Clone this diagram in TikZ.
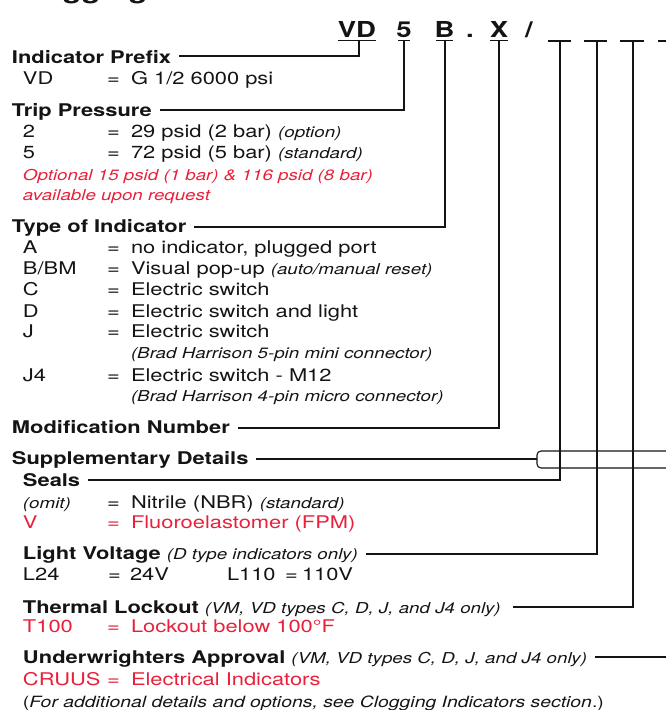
\documentclass[tikz,border=0pt]{standalone}
\usepackage{fontspec}
\setmainfont{TeX Gyre Heros}[FakeStretch=1.25]
\usetikzlibrary{calc}
\definecolor{ored}{RGB}{232,32,58}
\definecolor{ink}{RGB}{20,20,20}
\newcommand\bodyfs{\fontsize{17.5}{21}\selectfont}
\newcommand\notefs{\fontsize{15}{18}\selectfont}
\newcommand\codefs{\fontsize{22}{26}\selectfont\bfseries}
\newcommand\mynote[1]{{\notefs\itshape #1}}
% name, y, code, value, colour
\newcommand\entry[5]{%
  \node[txt,text=#5] (#1c) at (23,#2) {#3};
  \node[txt,text=#5] (#1e) at (107,#2) {=};
  \node[txt,text=#5] (#1v) at (131,#2) {#4};}
\begin{document}
\begin{tikzpicture}[x=1pt,y=-1pt,
  every node/.style={inner sep=0pt,outer sep=0pt,text=ink,font=\bodyfs},
  txt/.style={anchor=base west},
  head/.style={anchor=base west,font=\bodyfs\bfseries},
  code/.style={anchor=base,font=\codefs},
  conn/.style={draw=ink,line width=1.1pt},
  bar/.style={draw=ink,line width=1.1pt}]
\useasboundingbox (0,0) rectangle (666,710);
\clip (0,0) rectangle (666,710);

% cut-off title (only its descenders show)
\node[anchor=base west,font=\fontsize{25}{30}\selectfont\bfseries] (title) at (12,-1.5) {Clogging Indicator};

% code line
\node[code] (cvd) at (357,37) {VD};
\node[code] (c5) at (404,37) {5};
\node[code] (cb) at (444.5,37) {B};
\node[code] (cdot) at (470,37) {.};
\node[code] (cx) at (499,37) {X};
\node[code] (cslash) at (529,37) {/};
\draw[bar] (338,40.5) -- (376,40.5);
\draw[bar] (398,40.5) -- (410,40.5);
\draw[bar] (436,40.5) -- (453,40.5);
\draw[bar] (490,40.5) -- (508,40.5);
\draw[bar] (548,41) -- (571,41);
\draw[bar] (584,41) -- (607,41);
\draw[bar] (620,41) -- (644,41);
\draw[bar] (658,41) -- (680,41);
\coordinate (uvd) at (359,40.5);
\coordinate (u5) at (404,40.5);
\coordinate (ub) at (445,40.5);
\coordinate (ux) at (499,40.5);
\coordinate (ub1) at (560,41);
\coordinate (ub2) at (597,41);
\coordinate (ub3) at (633,41);
\coordinate (ub4) at (669,41);

% Indicator prefix
\node[head] (ip) at (12,63) {Indicator Prefix};
\entry{vd}{84}{VD}{G 1/2 6000 psi}{ink}

% Trip pressure
\node[head] (tp) at (12,116) {Trip Pressure};
\entry{ra}{137}{2}{29 psid (2 bar) \mynote{(option)}}{ink}
\entry{rb}{158}{5}{72 psid (5 bar) \mynote{(standard)}}{ink}
\node[txt,text=ored,font=\notefs\itshape] (opt1) at (23,180) {Optional 15 psid (1 bar) \& 116 psid (8 bar)};
\node[txt,text=ored,font=\notefs\itshape] (opt2) at (23,200) {available upon request};

% Type of indicator
\node[head] (toi) at (12,232) {Type of Indicator};
\entry{ta}{253}{A}{no indicator, plugged port}{ink}
\entry{tb}{274}{B/BM}{Visual pop-up \mynote{(auto/manual reset)}}{ink}
\entry{tc}{295}{C}{Electric switch}{ink}
\entry{td}{317}{D}{Electric switch and light}{ink}
\entry{tj}{337}{J}{Electric switch}{ink}
\node[txt,font=\notefs\itshape] (brad5) at (131,358) {(Brad Harrison 5-pin mini connector)};
\entry{tk}{381}{J4}{Electric switch - M12}{ink}
\node[txt,font=\notefs\itshape] (brad4) at (131,401) {(Brad Harrison 4-pin micro connector)};

% Modification / supplementary
\node[head] (mn) at (12,433) {Modification Number};
\node[head] (sd) at (12,464) {Supplementary Details};
\node[head] (seals) at (23,486) {Seals};
\entry{so}{508}{\mynote{(omit)}}{Nitrile (NBR) \mynote{(standard)}}{ink}
\entry{sv}{528}{V}{Fluoroelastomer (FPM)}{ored}

\node[txt] (lv) at (23,559) {\textbf{Light Voltage} \mynote{(D type indicators only)}};
\node[txt] (l24c) at (23,580) {L24};
\node[txt] (l24e) at (108,580) {=};
\node[txt] (l24v) at (130,580) {24V};
\node[txt] (l110c) at (227,580) {L110};
\node[txt] (l110e) at (285,580) {=};
\node[txt] (l110v) at (302,580) {110V};

\node[txt] (tl) at (23,613) {\textbf{Thermal Lockout} \mynote{(VM, VD types C, D, J, and J4 only)}};
\entry{tt}{632}{T100}{Lockout below 100°F}{ored}

\node[txt] (ua) at (23,663) {\textbf{Underwrighters Approval} \mynote{(VM, VD types C, D, J, and J4 only)}};
\entry{uc}{685}{CRUUS}{Electrical Indicators}{ored}
\node[txt,font=\fontsize{15.5}{18}\selectfont] (foot) at (23,707) {(\textit{For additional details and options, see Clogging Indicators section}.)};

% connectors
\draw[conn] (ip.base east) ++(8,-7) -| (uvd);
\draw[conn] (tp.base east) ++(8,-6) -| (u5);
\draw[conn] (toi.base east) ++(8,-5) -| (ub);
\draw[conn] (mn.base east) ++(8,-5) -| (ux);
\coordinate (brk) at (537,459);
\draw[conn] (sd.base east) ++(8,-5) -- (brk);
\draw[conn,rounded corners=4pt] (680,451) -- (537,451) -- (537,468) -- (680,468);
\draw[conn] (seals.base east) ++(8,-6) -| (ub1);
\draw[conn] (lv.base east) ++(8,-5) -| (ub2);
\draw[conn] (tl.base east) ++(12,-6) -| (ub3);
\draw[conn] (ua.base east) ++(8,-6) -| (ub4);
\end{tikzpicture}
\end{document}
